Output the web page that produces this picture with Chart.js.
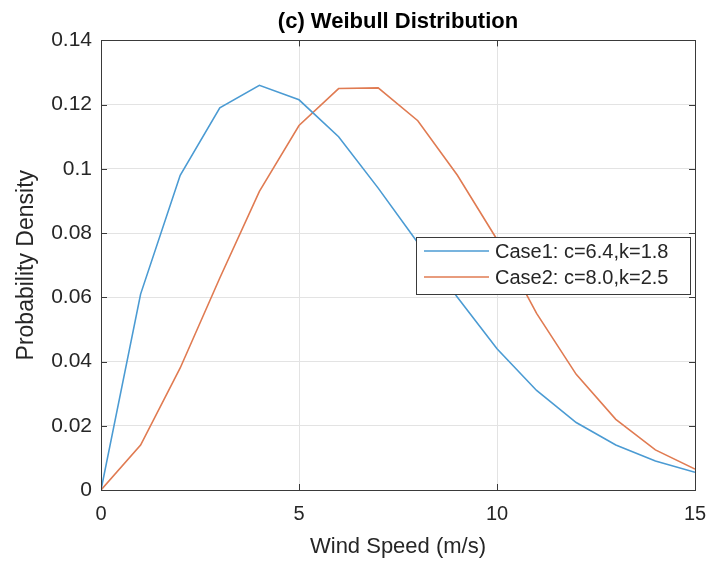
<!DOCTYPE html>
<html>
<head>
<meta charset="utf-8">
<script src="https://cdn.jsdelivr.net/npm/chart.js@4"></script>
<style>
  html, body { margin: 0; padding: 0; background: #fff; }
  #wrap { width: 710px; height: 561px; }
</style>
</head>
<body>
<div id="wrap"><canvas id="weibullChart" width="710" height="561"></canvas></div>
<script>
const windSpeed = [0, 1, 2, 3, 4, 5, 6, 7, 8, 9, 10, 11, 12, 13, 14, 15];
const case1 = [0, 0.061, 0.098, 0.119, 0.126, 0.1215, 0.110, 0.094, 0.077, 0.060, 0.044, 0.031, 0.021, 0.014, 0.009, 0.0055];
const case2 = [0, 0.014, 0.038, 0.066, 0.093, 0.1135, 0.125, 0.1252, 0.115, 0.098, 0.078, 0.055, 0.036, 0.022, 0.0125, 0.0065];
const seriesNames = ['Case1: c=6.4,k=1.8', 'Case2: c=8.0,k=2.5'];
const xTickLabels = ['0', '5', '10', '15'];
const yTickLabels = ['0', '0.02', '0.04', '0.06', '0.08', '0.1', '0.12', '0.14'];

const axisColor = '#262626';
const font = 'Liberation Sans, Arial, sans-serif';

function toPoints(values) {
    return windSpeed.map((x, i) => ({ x: x, y: values[i] }));
}

// box, inward ticks and legend in matlab style
const matlabBox = {
    id: 'matlabBox',
    afterDraw(chart) {
        const ctx = chart.ctx;
        const a = chart.chartArea;
        const xs = chart.scales.x;
        const ys = chart.scales.y;
        ctx.save();
        ctx.strokeStyle = '#3a3a3a';
        ctx.lineWidth = 1;
        xs.ticks.forEach(t => {
            const px = Math.round(xs.getPixelForValue(t.value)) + 0.5;
            ctx.beginPath();
            ctx.moveTo(px, a.bottom); ctx.lineTo(px, a.bottom - 6);
            ctx.moveTo(px, a.top); ctx.lineTo(px, a.top + 6);
            ctx.stroke();
        });
        ys.ticks.forEach(t => {
            const py = Math.round(ys.getPixelForValue(t.value)) + 0.5;
            ctx.beginPath();
            ctx.moveTo(a.left, py); ctx.lineTo(a.left + 6, py);
            ctx.moveTo(a.right, py); ctx.lineTo(a.right - 6, py);
            ctx.stroke();
        });
        ctx.strokeRect(Math.round(a.left) + 0.5, Math.round(a.top) + 0.5,
            Math.round(a.right - a.left), Math.round(a.bottom - a.top));

        // legend
        const lx = 416, ly = 237, lw = 274, lh = 57;
        ctx.fillStyle = '#fff';
        ctx.fillRect(lx, ly, lw, lh);
        ctx.strokeStyle = '#3a3a3a';
        ctx.strokeRect(lx + 0.5, ly + 0.5, lw, lh);
        ctx.font = '20px ' + font;
        ctx.textBaseline = 'middle';
        chart.data.datasets.forEach((ds, i) => {
            const cy = ly + 14 + i * 26;
            ctx.strokeStyle = ds.borderColor;
            ctx.lineWidth = 1.5;
            ctx.beginPath();
            ctx.moveTo(lx + 8, cy); ctx.lineTo(lx + 73, cy);
            ctx.stroke();
            ctx.fillStyle = axisColor;
            ctx.fillText(ds.label, lx + 79, cy + 1);
        });
        ctx.restore();
    }
};

const ctx = document.getElementById('weibullChart').getContext('2d');
const chart = new Chart(ctx, {
    type: 'line',
    data: {
        datasets: [
            { label: seriesNames[0], data: toPoints(case1), borderColor: '#4b9bd3', borderWidth: 1.6, pointRadius: 0, tension: 0 },
            { label: seriesNames[1], data: toPoints(case2), borderColor: '#e07b52', borderWidth: 1.6, pointRadius: 0, tension: 0 }
        ]
    },
    options: {
        responsive: false,
        animation: false,
        layout: { padding: { top: 0, right: 15, left: 0, bottom: 0 } },
        plugins: {
            legend: { display: false },
            tooltip: { enabled: false },
            title: {
                display: true,
                fullSize: false,
                text: '(c) Weibull Distribution',
                color: '#000',
                font: { family: font, size: 22, weight: 'bold' },
                padding: { top: 9, bottom: 5 }
            }
        },
        scales: {
            x: {
                type: 'linear',
                min: 0, max: 15,
                afterFit(scale) {
                    scale.height = 71;
                    scale.paddingRight = 0;
                    scale.paddingLeft = 0;
                },
                ticks: {
                    stepSize: 5,
                    color: axisColor,
                    font: { family: font, size: 20 },
                    padding: 12,
                    maxRotation: 0,
                    callback: (v) => xTickLabels[Math.round(v / 5)]
                },
                grid: { color: '#e3e3e3', drawTicks: false },
                border: { display: false },
                title: {
                    display: true,
                    text: 'Wind Speed (m/s)',
                    color: axisColor,
                    font: { family: font, size: 22 },
                    padding: { top: 0, bottom: 1 }
                }
            },
            y: {
                min: 0, max: 0.14,
                afterFit(scale) { scale.width = 101; },
                ticks: {
                    stepSize: 0.02,
                    color: axisColor,
                    font: { family: font, size: 21 },
                    padding: 9,
                    callback: (v) => yTickLabels[Math.round(v / 0.02)]
                },
                grid: { color: '#e3e3e3', drawTicks: false },
                border: { display: false },
                title: {
                    display: true,
                    text: 'Probability Density',
                    color: axisColor,
                    font: { family: font, size: 23 },
                    padding: { top: 13, bottom: 0 }
                }
            }
        }
    },
    plugins: [matlabBox]
});
</script>
</body>
</html>
